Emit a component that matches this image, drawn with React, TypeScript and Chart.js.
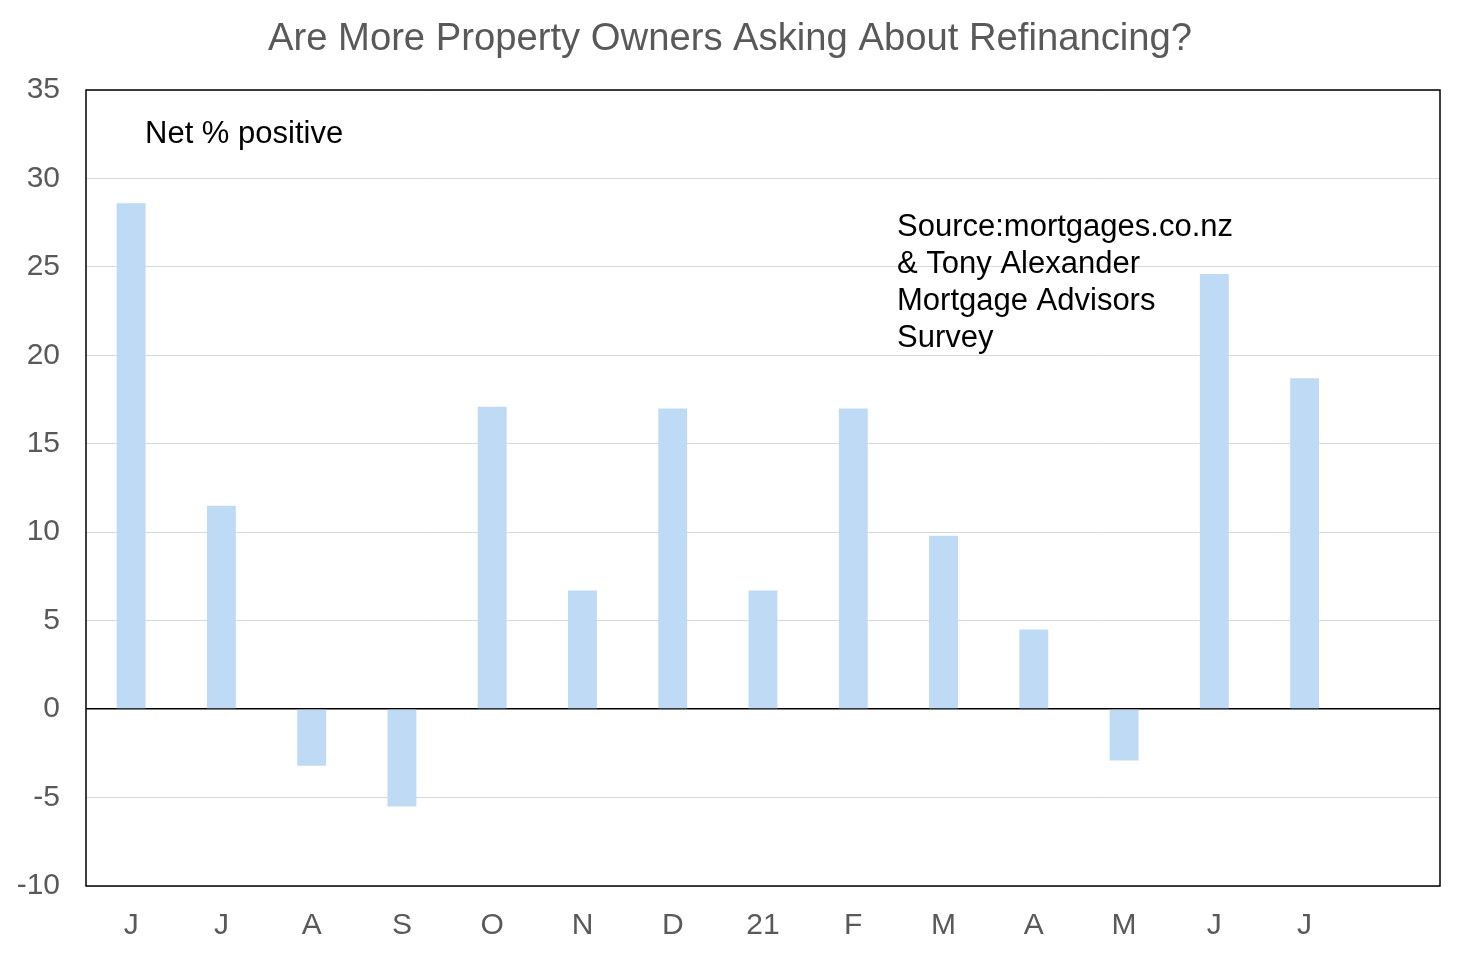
import React, { useEffect, useRef } from 'react';
import { Chart, registerables } from 'chart.js';

Chart.register(...registerables);

// months from Jun 2020 to Jul 2021, last slot left empty
const months = ['J', 'J', 'A', 'S', 'O', 'N', 'D', '21', 'F', 'M', 'A', 'M', 'J', 'J', ''];
const netPositive = [28.6, 11.5, -3.2, -5.5, 17.1, 6.7, 17.0, 6.7, 17.0, 9.8, 4.5, -2.9, 24.6, 18.7, null];
const yTicks = [-10, -5, 0, 5, 10, 15, 20, 25, 30, 35];

const chartTitle = 'Are More Property Owners Asking About Refinancing?';
const noteText = 'Net % positive';
const sourceLines = ['Source:mortgages.co.nz', '& Tony Alexander', 'Mortgage Advisors', 'Survey'];

const FONT = "'Liberation Sans', Arial, sans-serif";

const textPlugin = {
  id: 'extraText',
  afterDraw(chart: any) {
    const { ctx, chartArea } = chart;
    ctx.save();
    // plot border
    ctx.strokeStyle = '#000';
    ctx.lineWidth = 1.5;
    ctx.strokeRect(chartArea.left, chartArea.top, chartArea.right - chartArea.left, chartArea.bottom - chartArea.top);

    ctx.textBaseline = 'middle';
    ctx.fillStyle = '#595959';
    ctx.textAlign = 'center';
    ctx.font = '39px ' + FONT;
    // title is a little condensed in the original
    ctx.save();
    ctx.translate(730, 39);
    ctx.scale(0.98, 1);
    ctx.fillText(chartTitle, 0, 0);
    ctx.restore();

    ctx.fillStyle = '#000';
    ctx.textAlign = 'left';
    ctx.font = '31px ' + FONT;
    ctx.fillText(noteText, 145, 134);
    sourceLines.forEach((line, i) => {
      ctx.fillText(line, 897, 227 + i * 37);
    });
    ctx.restore();
  },
};

const RefinanceChart: React.FC = () => {
  const canvasRef = useRef<HTMLCanvasElement>(null);
  const chartRef = useRef<Chart | null>(null);

  useEffect(() => {
    document.body.style.margin = '0';
    if (!canvasRef.current) return;
    const ctx = canvasRef.current.getContext('2d');
    if (!ctx) return;
    chartRef.current?.destroy();

    chartRef.current = new Chart(ctx, {
      type: 'bar',
      data: {
        labels: months,
        datasets: [
          {
            data: netPositive as any,
            backgroundColor: '#bfdaf5',
            borderWidth: 0,
            barPercentage: 0.32,
            categoryPercentage: 1,
          },
        ],
      },
      options: {
        animation: false,
        responsive: false,
        maintainAspectRatio: false,
        layout: { padding: { top: 90, right: 22, left: 0, bottom: 0 } },
        plugins: {
          legend: { display: false },
          title: { display: false },
          tooltip: { enabled: false },
        },
        scales: {
          x: {
            grid: { display: false, drawTicks: false },
            border: { display: false },
            ticks: {
              color: '#595959',
              font: { family: FONT, size: 30 },
              padding: 22,
              maxRotation: 0,
              autoSkip: false,
            },
            afterFit: (s: any) => {
              s.height = 68;
            },
          },
          y: {
            min: -10,
            max: 35,
            afterBuildTicks: (s: any) => {
              s.ticks = yTicks.map((v) => ({ value: v }));
            },
            grid: {
              drawTicks: false,
              color: (c: any) => (c.tick && c.tick.value === 0 ? '#000' : '#d9d9d9'),
              lineWidth: (c: any) => (c.tick && c.tick.value === 0 ? 1.5 : 1),
            },
            border: { display: false },
            ticks: {
              color: '#595959',
              font: { family: FONT, size: 30 },
              padding: 26,
            },
            afterFit: (s: any) => {
              s.width = 86;
            },
          },
        },
      },
      plugins: [textPlugin],
    });

    return () => {
      chartRef.current?.destroy();
      chartRef.current = null;
    };
  }, []);

  return (
    <div style={{ position: 'relative', width: '1462px', height: '954px', background: '#fff' }}>
      <canvas ref={canvasRef} width={1462} height={954} style={{ width: '1462px', height: '954px' }}></canvas>
    </div>
  );
};

export default function App() {
  return <RefinanceChart />;
}
